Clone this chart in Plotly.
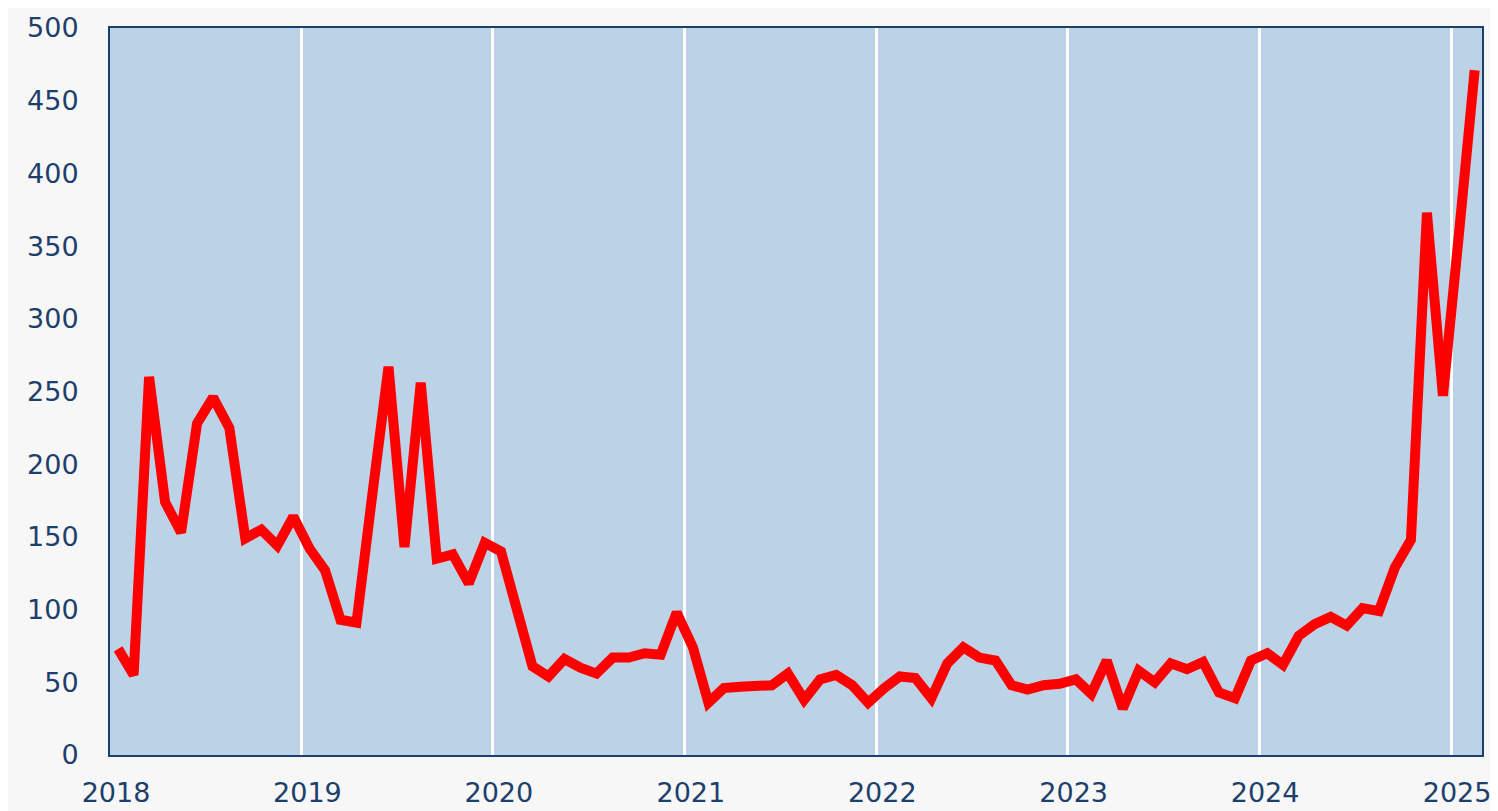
import plotly.graph_objects as go
import pandas as pd

start_month = "2018-01"
n_months = 86
months = pd.date_range(start_month + "-01", periods=n_months, freq="MS")

values = [
    # 2018
    73, 55, 260, 174, 153, 228, 246, 225, 149, 155, 144, 164,
    # 2019
    142, 127, 93, 91, 180, 267, 143, 256, 135, 138, 118, 146,
    # 2020
    140, 100, 61, 54, 66, 60, 56, 67, 67, 70, 69, 98,
    # 2021
    74, 36, 46, 47, 48, 48, 56, 38, 52, 55, 48, 36,
    # 2022
    46, 54, 53, 39, 63, 74, 67, 65, 48, 45, 48, 49,
    # 2023
    52, 42, 65, 32, 58, 50, 63, 59, 64, 43, 39, 65,
    # 2024
    70, 62, 82, 90, 95, 89, 101, 99, 129, 148, 373, 247,
    # 2025
    360, 471,
]

y_ticks = [0, 50, 100, 150, 200, 250, 300, 350, 400, 450, 500]
x_range = ["2018-01-01", "2025-03-01"]

navy = "#1d3f6b"
font_family = "'DejaVu Sans', Verdana, sans-serif"

fig = go.Figure()
fig.add_trace(go.Scatter(
    x=months, y=values, mode="lines",
    xperiod="M1", xperiodalignment="middle",
    line=dict(color="#ff0000", width=10),
    hoverinfo="skip",
))

fig.update_layout(
    width=1490, height=803,
    margin=dict(l=102, r=16, t=20, b=56),
    paper_bgcolor="#f7f7f7",
    plot_bgcolor="#bcd2e6",
    showlegend=False,
    font=dict(family=font_family, size=27, color=navy),
)
fig.update_xaxes(
    type="date", range=x_range, automargin=False,
    tick0="2018-01-01", dtick="M12", tickformat="%Y",
    showgrid=True, gridcolor="#ffffff", gridwidth=2.5,
    showline=True, linecolor=navy, linewidth=2, mirror=True,
    ticks="", ticklabelstandoff=13, ticklabelshift=6,
    zeroline=False,
)
fig.update_yaxes(
    range=[0, 500], tickvals=y_ticks, automargin=False,
    showgrid=False,
    showline=True, linecolor=navy, linewidth=2, mirror=True,
    ticks="", ticklabelstandoff=24,
    zeroline=False,
)

fig.write_html("out.html")
